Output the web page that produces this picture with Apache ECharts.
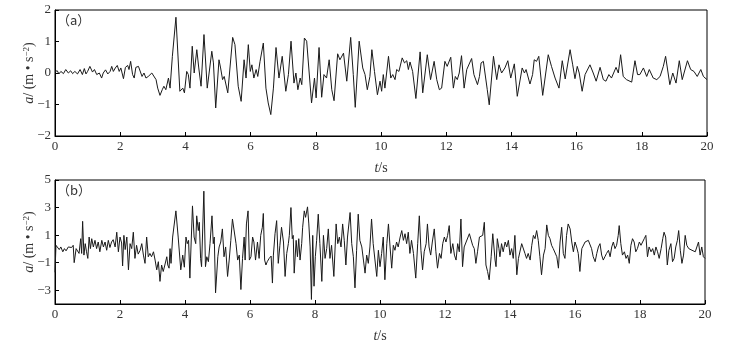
<!DOCTYPE html>
<html><head><meta charset="utf-8">
<script src="https://cdn.jsdelivr.net/npm/echarts@6/dist/echarts.min.js"></script>
<style>html,body{margin:0;padding:0;background:#fff}#c{width:745px;height:344px}</style>
</head><body><div id="c"></div>
<script>
// Panel (a): time (s) and acceleration (m/s^2)
const tA = [0,0.03,0.07,0.12,0.18,0.26,0.33,0.41,0.48,0.54,0.61,0.69,0.77,0.84,0.90,0.95,1.00,1.07,1.15,1.21,1.28,1.36,1.43,1.48,1.55,1.62,1.69,1.74,1.79,1.85,1.91,1.97,2.02,2.10,2.16,2.23,2.27,2.32,2.38,2.43,2.48,2.56,2.61,2.67,2.73,2.79,2.86,2.91,2.97,3.02,3.10,3.15,3.22,3.29,3.34,3.40,3.48,3.53,3.60,3.71,3.83,3.92,3.97,4.04,4.09,4.14,4.21,4.27,4.35,4.41,4.48,4.57,4.67,4.81,4.86,4.93,5.03,5.08,5.14,5.19,5.30,5.45,5.52,5.62,5.71,5.80,5.86,5.93,5.99,6.04,6.10,6.17,6.22,6.29,6.39,6.47,6.54,6.62,6.65,6.70,6.78,6.87,6.97,7.08,7.16,7.24,7.33,7.39,7.45,7.52,7.57,7.65,7.72,7.77,7.87,7.96,8.01,8.10,8.18,8.25,8.33,8.41,8.49,8.56,8.67,8.74,8.85,8.95,9.07,9.15,9.21,9.33,9.44,9.51,9.58,9.66,9.72,9.80,9.89,9.97,10.02,10.07,10.12,10.23,10.30,10.36,10.43,10.48,10.55,10.65,10.72,10.79,10.84,10.89,10.97,11.07,11.20,11.28,11.42,11.52,11.63,11.71,11.79,11.86,11.96,12.03,12.14,12.22,12.28,12.34,12.40,12.47,12.55,12.63,12.69,12.78,12.85,12.96,13.02,13.07,13.14,13.19,13.26,13.32,13.45,13.55,13.62,13.70,13.80,13.89,13.98,14.09,14.18,14.33,14.40,14.45,14.57,14.65,14.70,14.77,14.84,14.96,15.13,15.23,15.34,15.39,15.46,15.56,15.65,15.80,15.88,15.95,16.02,16.08,16.17,16.26,16.41,16.51,16.60,16.72,16.82,16.90,16.99,17.07,17.21,17.28,17.35,17.43,17.53,17.69,17.79,17.87,17.94,18.05,18.15,18.23,18.35,18.46,18.56,18.66,18.73,18.86,18.95,19.05,19.15,19.24,19.29,19.40,19.50,19.60,19.70,19.81,19.89,20.00];
const aA = [0.05,0.00,0.07,-0.03,0.05,-0.02,0.11,0.00,0.07,-0.02,0.05,-0.03,0.11,-0.05,0.14,-0.03,0.05,0.21,0.03,0.11,-0.05,0.00,-0.16,0.00,0.10,-0.03,0.05,0.21,0.05,0.16,0.24,0.05,0.16,-0.18,0.18,0.24,0.11,0.37,-0.05,-0.16,0.18,0.21,0.24,-0.11,0.00,-0.16,-0.11,-0.05,0.00,0.05,-0.21,-0.48,-0.71,-0.53,-0.42,-0.53,-0.16,-0.48,0.53,1.77,-0.58,-0.48,-0.63,0.05,-0.05,-0.48,0.85,0.00,0.74,0.16,-0.42,1.22,-0.48,0.69,0.32,-1.11,0.42,0.16,-0.21,-0.11,-0.63,1.13,0.90,-0.42,-0.90,0.42,-0.16,0.90,0.05,0.26,-0.16,0.11,-0.11,0.37,0.95,-0.48,-0.95,-1.32,-1.36,-0.48,0.81,-0.16,0.53,-0.58,-0.05,1.01,-0.32,0.00,-0.53,-0.16,-0.37,1.11,1.01,1.03,-0.95,-0.16,-0.79,0.81,-0.77,-0.05,-0.16,0.42,-0.53,-0.88,0.61,0.42,0.63,-0.26,1.13,-0.05,-1.09,1.01,0.16,-0.05,-0.53,-0.11,0.74,0.05,-0.69,-0.26,-0.58,-0.05,-0.48,0.53,-0.16,-0.05,-0.21,0.11,0.05,0.48,0.32,0.39,0.11,0.35,0.05,-0.81,0.67,-0.63,0.58,-0.21,0.37,-0.21,-0.53,-0.48,0.37,0.21,0.50,-0.48,-0.11,-0.21,0.00,0.55,-0.48,0.11,0.16,0.46,-0.05,-0.37,-0.11,0.32,0.37,0.42,-0.53,-1.01,0.53,-0.21,0.26,0.00,0.16,0.39,-0.16,0.29,-0.74,0.16,0.00,0.11,-0.35,-0.05,0.42,0.37,0.53,-0.71,0.58,0.21,-0.16,-0.21,-0.48,0.39,-0.19,0.74,0.26,-0.18,0.21,0.00,-0.58,-0.05,0.26,0.00,-0.26,0.18,-0.21,-0.26,-0.05,-0.16,0.18,0.00,0.58,-0.11,-0.21,-0.29,0.39,-0.05,-0.05,0.16,-0.11,0.11,-0.16,-0.21,-0.11,0.21,0.53,-0.37,0.00,-0.32,0.39,-0.21,-0.21,0.39,0.11,0.05,-0.11,0.11,-0.11,-0.21];

// Panel (b)
const tB = [0,0.03,0.07,0.13,0.18,0.24,0.29,0.34,0.41,0.46,0.51,0.56,0.59,0.65,0.70,0.74,0.79,0.82,0.85,0.89,0.93,0.97,1.01,1.05,1.09,1.13,1.18,1.23,1.28,1.33,1.38,1.44,1.49,1.54,1.59,1.64,1.69,1.74,1.79,1.85,1.90,1.95,2.00,2.05,2.08,2.12,2.16,2.21,2.26,2.31,2.36,2.41,2.46,2.51,2.56,2.62,2.67,2.72,2.77,2.82,2.87,2.92,2.97,3.03,3.08,3.13,3.18,3.23,3.28,3.33,3.38,3.44,3.47,3.51,3.54,3.57,3.62,3.72,3.79,3.87,3.93,3.98,4.03,4.07,4.11,4.15,4.23,4.28,4.33,4.36,4.41,4.44,4.48,4.51,4.58,4.63,4.67,4.72,4.77,4.83,4.87,4.90,4.94,5.01,5.05,5.10,5.15,5.20,5.25,5.31,5.36,5.41,5.46,5.51,5.57,5.62,5.67,5.72,5.77,5.82,5.85,5.89,5.94,5.98,6.03,6.08,6.12,6.17,6.23,6.28,6.33,6.38,6.41,6.45,6.49,6.53,6.59,6.65,6.69,6.72,6.77,6.82,6.87,6.92,6.97,7.03,7.08,7.13,7.18,7.21,7.26,7.30,7.33,7.36,7.42,7.46,7.50,7.54,7.59,7.62,7.67,7.71,7.77,7.81,7.85,7.89,7.93,7.97,8.01,8.05,8.10,8.15,8.21,8.26,8.31,8.36,8.41,8.46,8.51,8.58,8.65,8.70,8.75,8.80,8.85,8.90,8.95,9.00,9.08,9.13,9.18,9.23,9.28,9.33,9.38,9.44,9.49,9.54,9.59,9.64,9.69,9.74,9.79,9.85,9.90,9.95,10.00,10.05,10.10,10.15,10.21,10.26,10.31,10.36,10.41,10.46,10.51,10.56,10.62,10.67,10.72,10.77,10.82,10.87,10.92,10.97,11.03,11.10,11.16,11.21,11.26,11.31,11.36,11.42,11.46,11.51,11.56,11.61,11.67,11.72,11.77,11.83,11.88,11.93,11.98,12.03,12.08,12.13,12.18,12.24,12.29,12.34,12.39,12.44,12.49,12.54,12.59,12.65,12.70,12.75,12.80,12.85,12.90,12.95,13.00,13.06,13.11,13.16,13.21,13.26,13.31,13.36,13.42,13.47,13.54,13.57,13.61,13.66,13.69,13.74,13.79,13.85,13.90,13.95,14.00,14.05,14.10,14.15,14.21,14.26,14.31,14.36,14.41,14.46,14.51,14.56,14.62,14.67,14.72,14.77,14.82,14.87,14.92,14.97,15.03,15.08,15.13,15.18,15.23,15.28,15.33,15.38,15.44,15.49,15.54,15.59,15.64,15.69,15.74,15.79,15.85,15.90,15.95,16.00,16.05,16.10,16.15,16.21,16.26,16.31,16.36,16.41,16.46,16.51,16.56,16.62,16.67,16.72,16.77,16.82,16.87,16.92,16.97,17.03,17.08,17.13,17.18,17.23,17.28,17.33,17.36,17.41,17.46,17.52,17.57,17.62,17.67,17.72,17.77,17.82,17.87,17.92,17.98,18.03,18.08,18.13,18.18,18.23,18.28,18.34,18.39,18.44,18.49,18.54,18.59,18.65,18.70,18.74,18.79,18.84,18.89,18.95,19.00,19.05,19.10,19.15,19.19,19.24,19.29,19.34,19.39,19.44,19.50,19.55,19.60,19.65,19.70,19.75,19.80,19.85,19.90,19.95,20.00];
const aB = [-1.70,0.26,0.26,-0.05,0.14,-0.21,0.02,-0.14,0.14,0.26,0.10,0.26,-1.00,0.02,0.10,-0.33,0.74,-0.33,2.00,-0.45,0.38,-0.21,-0.69,0.86,0.02,0.74,0.14,0.62,0.02,0.50,-0.21,0.62,0.14,0.50,-0.10,0.62,0.10,0.50,0.67,0.14,1.21,-0.21,0.86,0.43,-1.24,0.98,-0.05,0.86,-1.52,0.38,0.02,1.21,-0.69,0.26,-0.38,-0.10,0.38,-0.45,-1.05,0.86,-0.57,-0.33,-0.57,-0.21,-0.81,-1.52,-0.93,-2.36,-1.17,-1.64,-1.17,-0.57,-1.17,-1.40,0.02,-1.05,0.86,2.76,0.86,-1.52,-0.45,-1.33,0.86,0.38,0.62,-2.12,3.12,0.86,0.38,2.40,1.33,1.93,-0.69,-1.29,4.19,-1.29,-0.57,-0.93,0.38,2.40,0.38,0.86,-3.19,-0.57,0.14,0.50,1.45,-0.57,0.14,-2.00,-0.81,0.62,2.17,2.05,0.38,-0.81,-0.45,-2.95,-0.69,0.86,-0.81,1.81,2.76,-0.81,-0.57,0.86,0.50,-0.81,0.50,-0.69,0.98,1.57,2.57,-0.81,-1.17,-0.93,-0.69,-0.52,-2.48,-0.45,1.10,2.05,-1.05,0.26,1.57,0.50,-2.00,-0.33,0.38,0.98,3.00,0.74,0.98,-1.76,0.62,-0.57,0.74,-0.81,0.38,1.57,2.76,2.29,3.05,1.81,0.14,-3.67,0.98,-2.71,-0.57,0.62,2.52,0.38,-2.36,0.98,-0.69,0.02,1.45,-0.69,0.26,-2.00,1.81,0.38,0.86,0.14,1.81,0.62,-1.17,0.86,2.64,0.38,-0.57,-2.83,-0.10,2.52,0.62,0.14,-0.81,-1.76,-0.45,-1.05,0.14,2.17,0.38,0.26,-2.00,-0.10,-1.29,-0.33,0.86,-2.24,0.38,1.81,0.14,-1.40,0.26,-0.10,0.50,0.14,0.86,1.33,0.62,1.10,0.38,1.21,-0.33,0.62,-0.33,-2.12,0.38,2.40,-0.10,-1.52,-0.21,0.38,1.81,0.14,-0.45,0.50,1.45,-0.21,-1.40,-0.33,-0.69,0.38,0.86,0.50,0.98,1.69,-0.33,0.38,-0.45,-0.81,0.38,-0.21,2.17,-1.29,0.14,0.50,0.38,1.10,0.98,0.26,0.02,-1.05,-0.21,0.86,0.74,0.98,1.93,-1.17,-1.64,-2.24,-0.57,1.10,-0.81,-1.29,0.74,0.02,-0.57,0.38,-0.21,0.50,0.14,0.62,-0.45,0.02,-0.69,0.98,-1.88,-0.69,-0.81,0.38,0.50,-0.33,-0.69,-0.33,-0.81,0.26,0.98,0.74,1.33,0.62,-0.57,-1.88,-0.45,0.02,1.74,0.98,0.74,0.26,0.02,0.14,-0.57,-1.40,0.50,1.57,-0.33,-0.69,0.98,1.81,1.45,0.50,-0.21,0.50,0.14,-0.33,-1.64,0.02,0.14,0.50,0.38,0.62,0.50,0.02,-0.57,-0.93,-0.33,0.14,0.38,-0.45,-0.81,-0.57,-0.33,-0.10,-0.57,0.14,0.50,0.02,0.26,0.98,1.69,0.38,-0.45,-0.21,-0.69,-0.45,-1.05,0.26,0.74,0.50,-0.21,0.02,0.50,0.26,0.50,0.74,0.98,-0.57,0.14,-0.21,0.02,-0.45,0.14,-0.21,-0.69,0.02,0.74,1.21,0.86,-1.17,-0.10,0.38,-0.93,-0.69,0.14,0.62,1.33,-0.10,-1.05,-0.45,0.98,0.26,0.02,0.14,-0.10,0.02,-0.21,-0.33,0.50,-0.45,0.14,-0.57,-0.69];

const xTicks = [0,2,4,6,8,10,12,14,16,18,20];
const yTicksA = [-2,-1,0,1,2];
const yTicksB = [-3,-1,1,3,5];

function pairs(t, v){ return t.map((x,i)=>[x, v[i]]); }
const FONT = '"Liberation Serif","DejaVu Serif",serif';
const TXT = '#333';
const minus = v => String(v).replace('-', '\u2212');

function yAxisCfg(gi, min, max, ticks){
  return {
    type:'value', gridIndex:gi, min:min, max:max,
    axisLine:{show:true, lineStyle:{color:'#000', width:1}},
    axisTick:{show:true, inside:true, length:4, customValues:ticks, lineStyle:{color:'#000'}},
    axisLabel:{customValues:ticks, color:TXT, fontFamily:FONT, fontSize:13, margin:4, formatter:minus},
    splitLine:{show:false},
    name:'{i|a}/ (m \u2022 s{s|\u22122})', nameLocation:'middle', nameGap:19, nameRotate:90,
    nameMoveOverlap:false,
    nameTextStyle:{color:TXT, fontFamily:FONT, fontSize:14,
      rich:{i:{fontStyle:'italic', fontFamily:FONT, fontSize:14, color:TXT},
            s:{fontSize:9, fontFamily:FONT, color:TXT, verticalAlign:'top', lineHeight:9}}}
  };
}
function xAxisCfg(gi){
  return {
    type:'value', gridIndex:gi, min:0, max:20,
    axisLine:{show:true, onZero:false, lineStyle:{color:'#000', width:1}},
    axisTick:{show:true, inside:true, length:4, customValues:xTicks, lineStyle:{color:'#000'}},
    axisLabel:{customValues:xTicks, color:TXT, fontFamily:FONT, fontSize:13, margin:4},
    splitLine:{show:false},
    name:'{i|t}/s', nameLocation:'middle', nameGap:25, nameMoveOverlap:false,
    nameTextStyle:{color:TXT, fontFamily:FONT, fontSize:14,
      rich:{i:{fontStyle:'italic', fontFamily:FONT, fontSize:14, color:TXT}}}
  };
}

const chart = echarts.init(document.getElementById('c'), null, {renderer:'canvas'});
chart.setOption({
  animation:false,
  backgroundColor:'#fff',
  grid:[
    {left:55, top:10, width:652, height:126, show:true, borderColor:'#000', borderWidth:1},
    {left:55, top:180, width:650, height:126, show:true, borderColor:'#000', borderWidth:1}
  ],
  xAxis:[xAxisCfg(0), xAxisCfg(1)],
  yAxis:[yAxisCfg(0,-2,2,yTicksA), yAxisCfg(1,-4,5,yTicksB)],
  graphic:[
    {type:'text', left:57, top:14, style:{text:'（a）', font:'13px "Noto Sans CJK SC", serif', fill:TXT}},
    {type:'text', left:57, top:184, style:{text:'（b）', font:'13px "Noto Sans CJK SC", serif', fill:TXT}}
  ],
  series:[
    {type:'line', xAxisIndex:0, yAxisIndex:0, data:pairs(tA,aA), showSymbol:false, symbol:'none',
     lineStyle:{color:'#1a1a1a', width:1}},
    {type:'line', xAxisIndex:1, yAxisIndex:1, data:pairs(tB,aB), showSymbol:false, symbol:'none',
     lineStyle:{color:'#1a1a1a', width:1}}
  ]
});
</script></body></html>
